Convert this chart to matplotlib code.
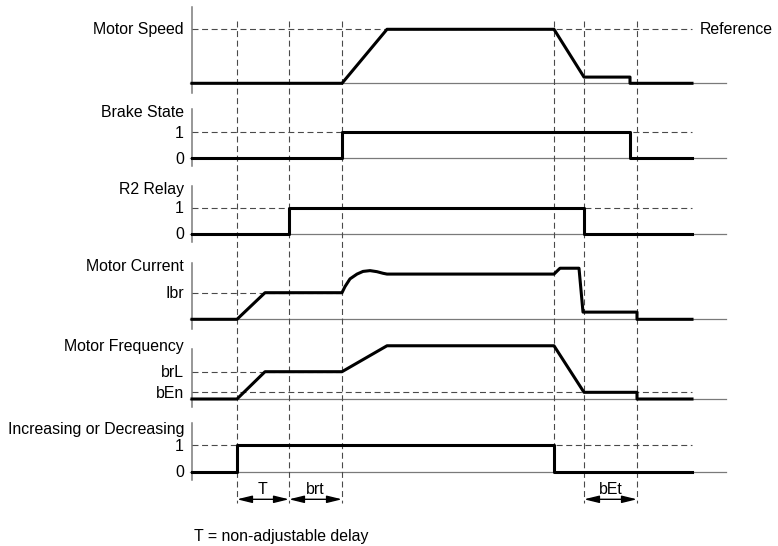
import numpy as np
import matplotlib.pyplot as plt

plt.rcParams['font.family'] = ['Liberation Sans', 'DejaVu Sans']
plt.rcParams['lines.scale_dashes'] = False

# Data (time in arbitrary units, levels relative to each panel's marked level)
t_end = 500
event_times = [45, 97, 150, 362, 392, 445]

speed_t = [0, 150, 195, 362, 392, 438, 438, 500]
speed_v = [0, 0, 1, 1, 0.115, 0.115, 0, 0]

brake_t = [0, 150, 150, 438, 438, 500]
brake_v = [0, 0, 1, 1, 0, 0]

relay_t = [0, 97, 97, 392, 392, 500]
relay_v = [0, 0, 1, 1, 0, 0]

current_t = [0, 45, 73, 150, 153, 158, 165, 171, 178, 185, 191, 195,
             362, 368, 387, 391, 445, 445, 500]
current_v = [0, 0, 1, 1, 1.23, 1.52, 1.70, 1.80, 1.83, 1.79, 1.73, 1.70,
             1.70, 1.92, 1.92, 0.27, 0.27, 0, 0]

freq_t = [0, 45, 73, 150, 195, 362, 392, 445, 445, 500]
freq_v = [0, 0, 1, 1, 1.95, 1.95, 0.245, 0.245, 0, 0]
freq_ben = 0.245

incdec_t = [0, 45, 45, 362, 362, 500]
incdec_v = [0, 0, 1, 1, 0, 0]

# Layout of the panels (y positions in figure pixels from top)
# name, label, baseline, unit height, axis top, axis bottom, label baseline
panels = {
    'speed':   dict(label='Motor Speed', base=83.3, unit=54.0, top=7, bottom=93, lab_y=34.3),
    'brake':   dict(label='Brake State', base=158, unit=26, top=109, bottom=166, lab_y=117.3),
    'relay':   dict(label='R2 Relay', base=233.5, unit=26, top=186, bottom=242, lab_y=194),
    'current': dict(label='Motor Current', base=319.3, unit=26.6, top=263, bottom=329, lab_y=270.7),
    'freq':    dict(label='Motor Frequency', base=399, unit=27.3, top=349, bottom=407, lab_y=350.5),
    'incdec':  dict(label='Increasing or Decreasing', base=471.7, unit=26.7, top=423, bottom=480, lab_y=434.3),
}

fs = 11.4
dash_col = '#4a4a4a'
base_col = '#7a7a7a'
dash = (0, (4.3, 2.6))

fig = plt.figure(figsize=(7.78, 5.46), dpi=100)
ax = fig.add_axes([0, 0, 1, 1])
ax.set_xlim(-192, 586)
ax.set_ylim(546, 0)
ax.axis('off')


def ypos(p, v):
    return p['base'] - p['unit'] * np.asarray(v, dtype=float)


def hdash(p, v, t1=0, t2=t_end):
    y = ypos(p, v)
    ax.plot([t1, t2], [y, y], color=dash_col, lw=0.8, linestyle=dash, zorder=1)


def ticklabel(p, v, s):
    ax.text(-8, ypos(p, v) + 5.6, s, ha='right', va='baseline', fontsize=fs)


# panel frames: vertical axis, baseline, label
for key, p in panels.items():
    ax.plot([0, 0], [p['top'], p['bottom']], color=base_col, lw=1.1, zorder=1)
    ax.plot([-2, 534], [p['base'], p['base']], color=base_col, lw=0.9, zorder=1)
    if key != 'speed':
        ax.text(-8, p['lab_y'], p['label'], ha='right', va='baseline', fontsize=fs)

# motor speed
P = panels['speed']
hdash(P, 1)
ax.text(-8, P['lab_y'], P['label'], ha='right', va='baseline', fontsize=fs)
ax.text(508, P['lab_y'], 'Reference', ha='left', va='baseline', fontsize=fs)
ax.plot(speed_t, ypos(P, speed_v), color='black', lw=2.2, zorder=3)

# brake state
P = panels['brake']
hdash(P, 1)
ticklabel(P, 1, '1')
ticklabel(P, 0, '0')
ax.plot(brake_t, ypos(P, brake_v), color='black', lw=2.2, zorder=3)

# R2 relay
P = panels['relay']
hdash(P, 1)
ticklabel(P, 1, '1')
ticklabel(P, 0, '0')
ax.plot(relay_t, ypos(P, relay_v), color='black', lw=2.2, zorder=3)

# motor current
P = panels['current']
hdash(P, 1, 0, 150)
ticklabel(P, 1, 'Ibr')
ax.plot(current_t, ypos(P, current_v), color='black', lw=2.2, zorder=3,
        solid_joinstyle='round')

# motor frequency
P = panels['freq']
hdash(P, 1, 0, 150)
hdash(P, freq_ben)
ticklabel(P, 1, 'brL')
ticklabel(P, freq_ben, 'bEn')
ax.plot(freq_t, ypos(P, freq_v), color='black', lw=2.2, zorder=3)

# increasing or decreasing
P = panels['incdec']
hdash(P, 1)
ticklabel(P, 1, '1')
ticklabel(P, 0, '0')
ax.plot(incdec_t, ypos(P, incdec_v), color='black', lw=2.2, zorder=3)

# vertical event lines
line_bottoms = [503, 503, 503, 472, 503, 503]
for t, yb in zip(event_times, line_bottoms):
    ax.plot([t, t], [20.7, yb], color=dash_col, lw=0.8, linestyle=dash, zorder=1)

# delay arrows
delays = [(event_times[0], event_times[1], 'T'),
          (event_times[1], event_times[2], 'brt'),
          (event_times[4], event_times[5], 'bEt')]
for a, b, s in delays:
    ax.annotate('', xy=(b, 499.3), xytext=(a, 499.3),
                arrowprops=dict(arrowstyle='<|-|>,head_length=0.9,head_width=0.22',
                                color='black', lw=1.0, shrinkA=0, shrinkB=0,
                                mutation_scale=10))
    ax.text((a + b) / 2, 494, s, ha='center', va='baseline', fontsize=fs)

ax.text(2, 540.7, 'T = non-adjustable delay', ha='left', va='baseline', fontsize=fs)

fig.savefig('out.png', dpi=100)
